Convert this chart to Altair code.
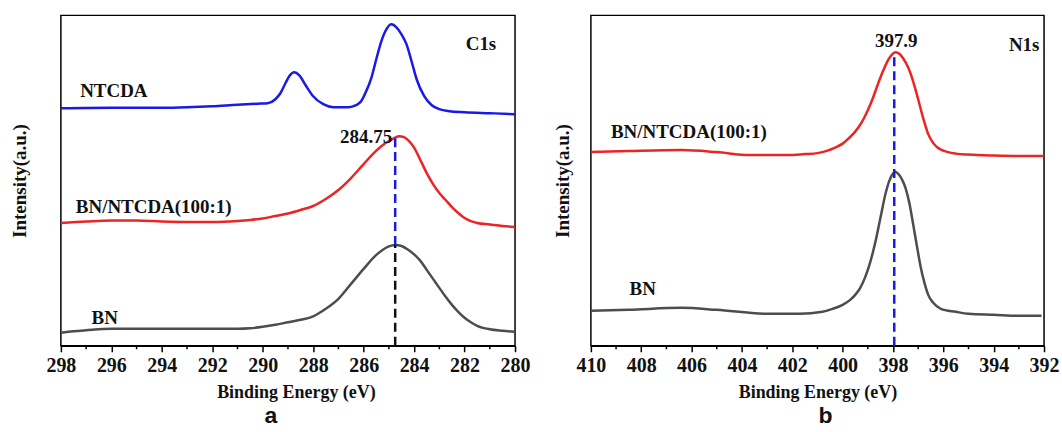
import altair as alt
import pandas as pd

# ---------------- Panel a : C1s ----------------
a_ntcda_E = [298.0, 296.0, 294.0, 293.0, 292.0, 291.0, 290.2, 289.8, 289.5, 289.3, 289.1, 288.95,
             288.75, 288.55, 288.3, 288.0, 287.6, 287.2, 286.6, 286.3, 286.1, 285.9, 285.7, 285.5,
             285.3, 285.1, 284.9, 284.7, 284.5, 284.3, 284.1, 283.9, 283.6, 283.3, 283.0, 282.6,
             282.0, 281.0, 280.0]
a_ntcda_I = [238, 238.5, 238.5, 239, 240, 241.5, 242.5, 243, 247, 253, 263, 270,
             274, 271, 261, 250, 242, 239, 239, 241, 245, 255, 268, 287,
             305, 317, 322, 319, 312, 302, 285, 267, 250, 241, 237, 235,
             234, 233, 232]

a_mix_E = [298.0, 297.0, 296.0, 295.0, 294.0, 293.0, 292.0, 291.0, 290.5, 290.0, 289.5, 289.0,
           288.5, 288.0, 287.5, 287.0, 286.5, 286.0, 285.5, 285.25, 285.0, 284.75, 284.6, 284.4,
           284.2, 284.0, 283.75, 283.5, 283.25, 283.0, 282.75, 282.5, 282.25, 282.0, 281.5, 281.0,
           280.5, 280.0]
a_mix_I = [123, 124.5, 125.5, 125.5, 124.5, 124, 124, 125, 126, 127.5, 130, 132.5,
           136, 140, 147, 156, 168, 182, 195.5, 201, 205, 208.5, 210, 209,
           205, 198.5, 186, 173, 162, 153, 146, 139, 133, 128, 123, 121.5,
           120, 119]

a_bn_E = [298.0, 297.5, 297.0, 296.0, 295.0, 294.0, 293.0, 292.0, 291.0, 290.5, 290.0, 289.5,
          289.0, 288.5, 288.0, 287.5, 287.0, 286.5, 286.0, 285.5, 285.25, 285.0, 284.75, 284.5,
          284.25, 284.0, 283.75, 283.5, 283.25, 283.0, 282.75, 282.5, 282.25, 282.0, 281.75, 281.5,
          281.0, 280.5, 280.0]
a_bn_I = [13, 14.5, 15.5, 17, 17, 17, 17, 17, 17, 17.5, 19, 21,
          23.5, 26, 29.5, 37, 47, 62, 77, 91, 96, 99.5, 101, 100,
          96.5, 91.5, 85, 76, 67, 58, 49, 41, 34, 28, 23.5, 20,
          16.5, 15, 14]

a_ticks = [298, 296, 294, 292, 290, 288, 286, 284, 282, 280]
a_minor = [297, 295, 293, 291, 289, 287, 285, 283, 281]
a_peak_E = 284.75
a_peak_mix = 210
a_peak_bn = 101

a_note_text = ["NTCDA", "BN/NTCDA(100:1)", "BN", "284.75", "C1s"]
a_note_E = [295.9, 294.32, 296.26, 285.9, 281.35]
a_note_I = [255, 139, 28, 209, 302]

# ---------------- Panel b : N1s ----------------
b_mix_E = [410.0, 408.5, 406.4, 405.0, 403.7, 402.2, 401.5, 401.0, 400.6, 400.3, 400.0, 399.75,
           399.5, 399.25, 399.0, 398.8, 398.6, 398.4, 398.2, 398.05, 397.9, 397.75, 397.6, 397.4,
           397.2, 397.0, 396.8, 396.6, 396.4, 396.2, 396.0, 395.5, 395.0, 394.0, 393.0, 392.0]
b_mix_I = [194, 195, 196, 194, 191, 191, 192, 193, 195.5, 198.5, 202.5, 208,
           214.5, 223.5, 236, 248, 262, 275, 286, 291.5, 294, 292.5, 288, 279,
           265, 247, 228, 212, 203, 198, 195.5, 192.5, 191.5, 190.5, 190, 190]

b_bn_E = [410.0, 408.5, 406.4, 405.0, 403.0, 401.7, 400.8, 400.4, 400.0, 399.7, 399.5, 399.3,
          399.1, 398.9, 398.7, 398.5, 398.3, 398.15, 398.0, 397.9, 397.8, 397.65, 397.5, 397.35,
          397.2, 397.05, 396.9, 396.75, 396.6, 396.4, 396.1, 395.5, 395.0, 394.0, 393.0, 392.1]
b_bn_I = [35, 36, 38, 36, 32, 32, 34, 37, 41, 46, 51, 58,
          69, 84, 104, 128, 152, 165, 172.5, 174, 172.5, 167, 158, 143,
          122, 100, 79, 63, 51, 43, 37, 34, 32, 31, 30, 30]

b_ticks = [410, 408, 406, 404, 402, 400, 398, 396, 394, 392]
b_minor = [409, 407, 405, 403, 401, 399, 397, 395, 393]
b_peak_E = 397.95
b_peak_mix = 294

b_note_text = ["BN/NTCDA(100:1)", "BN", "397.9", "N1s"]
b_note_E = [406.11, 407.94, 397.87, 392.79]
b_note_I = [214, 57, 305, 301]

BLUE = "#1a1ae6"
RED = "#ec2424"
GRAY = "#4d4d4d"
SERIF = "Liberation Serif"
H = 331
YMAX = 331


def curves_df(curves):
    rows = []
    for name, E, I in curves:
        for e, i in zip(E, I):
            rows.append({"series": name, "E": e, "I": i})
    return pd.DataFrame(rows)


def panel(curves, colors, lo, hi, ticks, minor, dashes, notes, width, ypad, letter, letter_dx, title_x):
    xs = alt.Scale(domain=[lo, hi], reverse=True, nice=False, zero=False)
    ys = alt.Scale(domain=[0, YMAX], nice=False, zero=False)
    xaxis = alt.Axis(values=ticks, format="d", title="Binding Energy (eV)", labelFlush=False,
                     grid=False, tickSize=6, tickWidth=1.5, tickColor="black",
                     domainColor="black", domainWidth=1.5,
                     labelFont=SERIF, labelFontWeight="bold", labelFontSize=20, labelColor="#111",
                     labelPadding=4, titleFont=SERIF, titleFontWeight="bold", titleFontSize=18,
                     titleColor="#111", titlePadding=8, titleX=title_x)
    yaxis = alt.Axis(labels=False, ticks=False, domain=False, grid=False, title="Intensity(a.u.)",
                     titleFont=SERIF, titleFontWeight="bold", titleFontSize=19, titleColor="#111",
                     titlePadding=ypad)
    df = curves_df(curves)
    names = [c[0] for c in curves]
    lines = alt.Chart(df).mark_line(strokeWidth=2.5, interpolate="monotone").encode(
        x=alt.X("E:Q", scale=xs, axis=xaxis),
        y=alt.Y("I:Q", scale=ys, axis=yaxis),
        color=alt.Color("series:N", scale=alt.Scale(domain=names, range=colors), legend=None),
        order=alt.Order("E:Q", sort="descending"),
    )
    mdf = pd.DataFrame({"E": minor})
    minors = alt.Chart(mdf).mark_rule(color="black", strokeWidth=1.5).encode(
        x=alt.X("E:Q", scale=xs), y=alt.value(H), y2=alt.value(H + 3.5))
    layers = [lines, minors]
    for (e, y1, y2, col) in dashes:
        ddf = pd.DataFrame({"E": [e], "y1": [y1], "y2": [y2]})
        layers.append(alt.Chart(ddf).mark_rule(color=col, strokeWidth=2.5, strokeDash=[9, 5]).encode(
            x=alt.X("E:Q", scale=xs), y=alt.Y("y1:Q", scale=ys), y2="y2:Q"))
    ndf = pd.DataFrame({"E": notes[1], "I": notes[2], "t": notes[0]})
    layers.append(alt.Chart(ndf).mark_text(font=SERIF, fontWeight="bold", fontSize=19, color="#111",
                                           align="center", baseline="middle").encode(
        x=alt.X("E:Q", scale=xs), y=alt.Y("I:Q", scale=ys), text="t:N"))
    return alt.layer(*layers).properties(
        width=width, height=H,
        title=alt.TitleParams(letter, orient="bottom", font="Liberation Sans", fontWeight="bold",
                              fontSize=23, color="#111", offset=3, dx=letter_dx, frame="group",
                              anchor="middle"))


pa = panel([("NTCDA", a_ntcda_E, a_ntcda_I), ("BN/NTCDA(100:1)", a_mix_E, a_mix_I), ("BN", a_bn_E, a_bn_I)],
           [BLUE, RED, GRAY], 280, 298, a_ticks, a_minor,
           [(a_peak_E, a_peak_bn, a_peak_mix, BLUE), (a_peak_E, 0, a_peak_bn, "#111")],
           (a_note_text, a_note_E, a_note_I), 455, 31, "a", -17, 235.5)

pb = panel([("BN/NTCDA(100:1)", b_mix_E, b_mix_I), ("BN", b_bn_E, b_bn_I)],
           [RED, GRAY], 392, 410, b_ticks, b_minor,
           [(b_peak_E, 0, b_peak_mix, BLUE)],
           (b_note_text, b_note_E, b_note_I), 454, 18, "b", 8, 227)

chart = alt.hconcat(pa, pb, spacing=22).resolve_scale(x="independent", y="independent", color="independent").configure(
    padding={"left": 10, "top": 14, "right": 2, "bottom": 0}
).configure_view(stroke="black", strokeWidth=1.5)

chart.save("out.html", embed_options={"renderer": "svg", "actions": False})
